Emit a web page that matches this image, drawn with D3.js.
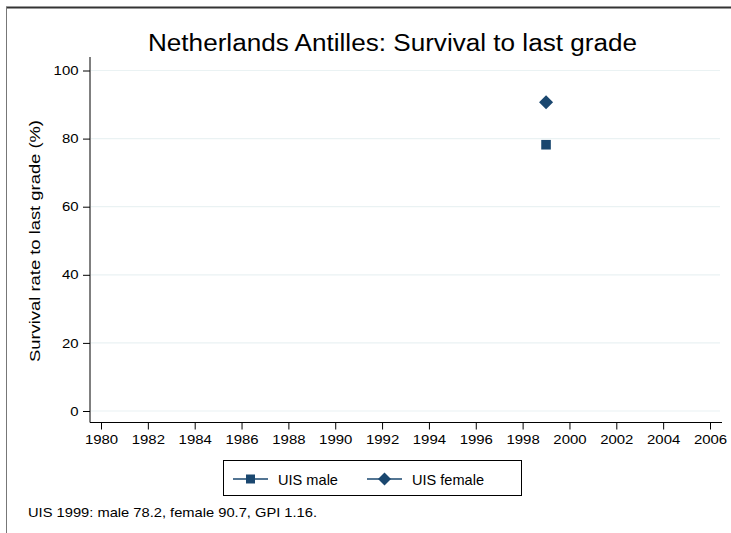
<!DOCTYPE html>
<html>
<head>
<meta charset="utf-8">
<script src="https://cdn.jsdelivr.net/npm/d3@7"></script>
<style>
body { margin: 0; background: #fff; overflow: hidden; }
svg { display: block; }
text { font-family: "Liberation Sans", Arial, sans-serif; fill: #000; }
</style>
</head>
<body>
<script>
// Chart data

var titleText = 'Netherlands Antilles: Survival to last grade';
var yLabel = 'Survival rate to last grade (%)';
var noteText = 'UIS 1999: male 78.2, female 90.7, GPI 1.16.';

var years = [1999];
var maleValues = [78.2];
var femaleValues = [90.7];

var xTicks = [1980, 1982, 1984, 1986, 1988, 1990, 1992, 1994, 1996, 1998, 2000, 2002, 2004, 2006];
var yTicks = [0, 20, 40, 60, 80, 100];

var seriesNames = ['UIS male', 'UIS female'];

var navy = '#1a476f';
var stretch = 1.15; // text in the picture is a bit wider than Arial

var svg = d3.select('body').append('svg')
    .attr('width', 731)
    .attr('height', 533);

// Outer frame (only top and left show in the window)
svg.append('line')
    .attr('x1', 6).attr('x2', 731).attr('y1', 7.5).attr('y2', 7.5)
    .attr('stroke', '#333').attr('stroke-width', 2);
svg.append('line')
    .attr('x1', 6.5).attr('x2', 6.5).attr('y1', 7).attr('y2', 533)
    .attr('stroke', '#777').attr('stroke-width', 1);

var x = d3.scaleLinear().domain([1980, 2006]).range([101, 710]);
var y = d3.scaleLinear().domain([0, 100]).range([411, 70.5]);

// Gridlines
svg.append('g').selectAll('line').data(yTicks).enter()
    .append('line')
    .attr('x1', 91).attr('x2', 720)
    .attr('y1', function (d) { return y(d); })
    .attr('y2', function (d) { return y(d); })
    .attr('stroke', '#eaf2f3')
    .attr('stroke-width', 1.2);

// Y axis
var yAxis = svg.append('g')
    .attr('transform', 'translate(90,0)')
    .call(d3.axisLeft(y).tickValues(yTicks).tickSize(7).tickPadding(4));
yAxis.select('.domain').attr('d', 'M0,57V422.5');
yAxis.selectAll('.tick text')
    .attr('x', -11.5 / stretch)
    .attr('transform', 'scale(' + stretch + ',1)');

// X axis
var xAxis = svg.append('g')
    .attr('transform', 'translate(0,422.5)')
    .call(d3.axisBottom(x).tickValues(xTicks).tickFormat(d3.format('d')).tickSize(7).tickPadding(5));
xAxis.select('.domain').attr('d', 'M90,0H722');
xAxis.selectAll('.tick text')
    .attr('transform', 'scale(' + stretch + ',1)');

svg.selectAll('.tick text').style('font-size', '13px').attr('fill', '#000');
svg.selectAll('.tick line').attr('stroke', '#000');
svg.selectAll('.domain').attr('stroke', '#000');

// Title
svg.append('text')
    .attr('x', 148).attr('y', 51)
    .attr('textLength', 489)
    .attr('lengthAdjust', 'spacingAndGlyphs')
    .style('font-size', '23px')
    .text(titleText);

// Y label
svg.append('text')
    .attr('transform', 'translate(39.5,362) rotate(-90)')
    .attr('textLength', 242)
    .attr('lengthAdjust', 'spacingAndGlyphs')
    .style('font-size', '15.5px')
    .text(yLabel);

// Marker shapes
function squarePath(s) {
    return 'M' + (-s) + ',' + (-s) + 'H' + s + 'V' + s + 'H' + (-s) + 'Z';
}
function diamondPath(r) {
    return 'M0,' + (-r) + 'L' + r + ',0L0,' + r + 'L' + (-r) + ',0Z';
}

svg.append('g').selectAll('path').data(years).enter()
    .append('path')
    .attr('d', squarePath(4.8))
    .attr('transform', function (d, i) { return 'translate(' + x(d) + ',' + y(maleValues[i]) + ')'; })
    .attr('fill', navy);

svg.append('g').selectAll('path').data(years).enter()
    .append('path')
    .attr('d', diamondPath(7))
    .attr('transform', function (d, i) { return 'translate(' + x(d) + ',' + y(femaleValues[i]) + ')'; })
    .attr('fill', navy);

// Legend
var legend = svg.append('g');
legend.append('rect')
    .attr('x', 223.5).attr('y', 460.5)
    .attr('width', 298).attr('height', 35)
    .attr('fill', '#fff')
    .attr('stroke', '#000');

var symbols = [squarePath(4.5), diamondPath(6.5)];
var legendX = [233, 367];
var legendLen = [60, 72];
seriesNames.forEach(function (name, i) {
    var g = legend.append('g').attr('transform', 'translate(' + legendX[i] + ',479)');
    g.append('line').attr('x1', 0).attr('x2', 35).attr('stroke', navy).attr('stroke-width', 1.5);
    g.append('path').attr('d', symbols[i]).attr('transform', 'translate(17.5,0)').attr('fill', navy);
    g.append('text').attr('x', 45).attr('y', 5.5)
        .attr('textLength', legendLen[i])
        .attr('lengthAdjust', 'spacingAndGlyphs')
        .style('font-size', '14.5px').text(name);
});

// Note
svg.append('text')
    .attr('x', 28).attr('y', 517)
    .attr('textLength', 289)
    .attr('lengthAdjust', 'spacingAndGlyphs')
    .style('font-size', '13.5px')
    .text(noteText);
</script>
</body>
</html>
